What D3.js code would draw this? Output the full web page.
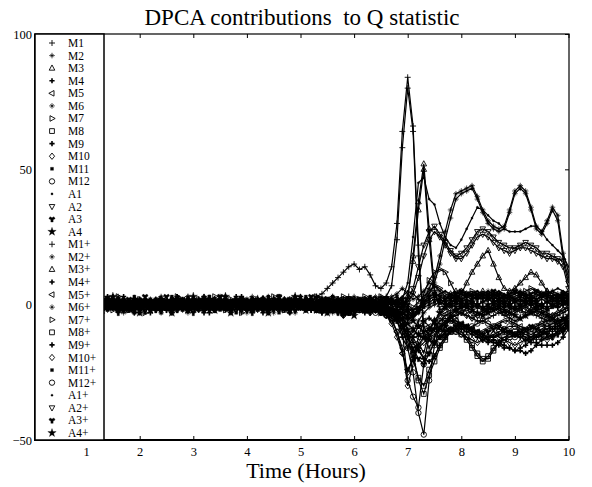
<!DOCTYPE html>
<html>
<head>
<meta charset="utf-8">
<script src="https://cdn.jsdelivr.net/npm/d3@7"></script>
<style>
  body { margin: 0; background: #fff; }
  svg text { font-family: "Liberation Serif", "Times New Roman", serif; fill: #000; }
</style>
</head>
<body>
<div id="chart"></div>
<script>
// time grid (hours) shared by every series
const hours = [
  1.2,1.3,1.4,1.5,1.6,1.7,1.8,1.9,2.0,2.1,
  2.2,2.3,2.4,2.5,2.6,2.7,2.8,2.9,3.0,3.1,
  3.2,3.3,3.4,3.5,3.6,3.7,3.8,3.9,4.0,4.1,
  4.2,4.3,4.4,4.5,4.6,4.7,4.8,4.9,5.0,5.1,
  5.2,5.3,5.4,5.5,5.6,5.7,5.8,5.9,6.0,6.1,
  6.2,6.3,6.4,6.5,6.6,6.7,6.8,
  6.9,7.0,7.1,7.2,7.3,7.4,7.5,7.6,7.7,7.8,
  7.9,8.0,8.1,8.2,8.3,8.4,8.5,8.6,8.7,8.8,
  8.9,9.0,9.1,9.2,9.3,9.4,9.5,9.6,9.7,9.8,
  9.9,10.0
];

const xTicks = [1, 2, 3, 4, 5, 6, 7, 8, 9, 10];
const yTicks = [-50, 0, 50, 100];

const M1 = [
  1,-1,0,2,1,-1,1,0,-2,1,  0,1,-1,1,2,0,-1,1,0,1,  -1,0,1,2,0,-1,1,0,-1,1,  0,1,-1,0,1,2,1,0,1,1,
  2,3,4,6,8,10,12,14,15,13,  14,11,7,6,8,14,30,
  64,84,66,22,-12,-16,-12,-8,-6,-5,  -4,-3,-4,-5,-6,-6,-5,-4,-3,-4,  -5,-6,-5,-4,-3,-4,-5,-6,-5,-4,  -3,-2
];
const M2 = [
  2,-1,-2,1,3,0,-2,1,2,-1,  -2,1,3,0,-2,2,1,-3,0,2,  1,-2,0,3,-1,-2,2,0,-3,1,  -2,2,1,-1,3,0,-2,1,-1,2,
  0,-2,2,1,-3,0,2,-1,-3,1,  2,0,-2,3,0,2,1,
  1,-2,-4,-2,2,6,10,18,27,35,  41,42,43,44,40,35,31,29,28,29,  35,42,44,42,36,29,27,31,36,33,  19,12
];
const M3 = [
  -1,1,0,-1,0,1,-2,0,1,-1,  1,0,-1,0,2,-1,0,1,-1,0,  0,-1,1,0,-1,0,1,-1,0,2,  -1,0,1,0,-1,-2,0,1,-1,0,
  -1,0,1,-1,0,-1,-3,-1,0,1,  -1,0,1,-1,-2,-1,0,
  -2,2,18,38,52,28,6,-2,-1,1,  2,4,8,12,15,18,20,15,10,6,  5,6,8,10,12,11,8,5,4,3,  2,3
];
const M4 = [
  -2,1,3,-1,-2,2,0,-3,1,2,  -1,-2,2,1,-3,0,2,-1,1,-2,  3,0,-2,1,2,-2,0,3,-1,-2,  1,2,-2,-1,3,0,-3,1,2,-1,
  -2,0,-3,-1,1,-2,-4,-2,-1,1,  -2,-3,0,-2,-3,-4,-6,
  -12,-16,-12,-8,-6,-5,-7,-9,-10,-9,  -8,-9,-10,-11,-12,-13,-14,-13,-14,-15,  -16,-17,-16,-15,-13,-12,-11,-10,-9,-8,  -9,-8
];
const M5 = [
  -1,0,1,0,-1,1,0,-1,1,0,  0,1,-1,0,1,0,-1,0,-1,1,  0,-1,1,0,-1,1,0,1,-1,0,  -1,0,0,1,-1,0,1,-1,0,1,
  0,-1,-2,-1,0,-1,-2,-3,-2,-1,  -1,0,-1,-2,-3,-5,-10,
  -18,-24,-20,-12,-6,-8,-10,-9,-7,-5,  -4,-3,-2,-3,-4,-3,-2,-1,-2,-3,  -2,-1,-2,-3,-2,-1,-2,-3,-4,-3,  -2,-1
];
const M6 = [
  1,-2,0,2,-1,-3,1,2,-2,0,  2,-1,-3,1,2,0,-2,3,1,-1,  -2,0,2,-1,3,-2,0,-3,2,1,  -2,2,0,-3,1,2,-1,0,3,-2,
  0,2,-2,1,3,-1,-3,0,2,-1,  -2,1,2,-2,0,-3,-4,
  -8,-12,-10,-6,-3,-1,0,1,0,-1,  0,1,2,1,0,1,2,3,2,1,  0,1,2,1,0,-1,0,1,2,1,  0,1
];
const M7 = [
  0,-1,0,1,-1,0,1,-1,0,1,  -1,0,1,0,-1,1,0,-1,0,1,  1,0,-1,0,1,-1,1,0,-1,0,  0,1,-1,0,1,0,-1,1,0,-1,
  1,0,1,2,1,0,1,2,1,0,  1,2,1,0,-1,-2,-3,
  -4,-6,-4,-2,4,9,12,13,12,8,  4,2,3,4,3,2,3,4,3,2,  3,2,1,2,3,4,3,2,1,2,  3,2
];
const M8 = [
  -1,0,1,-1,0,1,0,-1,0,1,  0,-1,0,1,-1,0,1,0,-1,0,  1,0,-1,0,1,0,-1,1,0,-1,  0,-1,1,0,-1,1,0,-1,0,1,
  -1,-2,-1,0,-1,-2,-3,-2,-1,-2,  -1,-2,-1,0,-1,-2,-3,
  -4,-10,-18,-28,-33,-26,-21,-16,-13,-10,  -9,-10,-12,-15,-18,-20,-20,-17,-14,-12,  -11,-10,-10,-11,-12,-11,-10,-9,-8,-8,  -7,-5
];
const M9 = [
  -2,1,2,-1,0,3,-2,-1,2,1,  -3,0,2,-2,1,3,-1,-2,0,2,  1,-3,0,2,-2,1,3,-1,-2,0,  2,-1,-3,1,2,-2,0,3,-1,-2,
  -2,1,-3,-2,0,-1,-4,-3,0,-2,  -3,-2,-1,-3,-4,-4,-5,
  -8,-10,-14,-17,-20,-21,-19,-15,-12,-10,  -9,-8,-8,-9,-10,-11,-12,-12,-11,-10,  -10,-11,-12,-13,-14,-14,-15,-15,-15,-14,  -12,-9
];
const M10 = [
  -1,0,1,0,-1,1,0,-1,0,1,  0,1,-1,0,1,0,-1,0,1,-1,  1,-1,0,1,-1,0,0,1,-1,0,  0,1,-1,0,1,-1,0,-1,0,1,
  -1,-2,-1,0,-1,-2,-4,-3,-1,-1,  -2,-1,-2,-3,-4,-6,-10,
  -16,-30,-22,-14,-18,-10,-6,-4,-3,-2,  -2,-3,-4,-5,-4,-3,-2,-1,-2,-3,  -4,-3,-2,-1,-2,-3,-4,-5,-4,-3,  -2,-1
];
const M11 = [
  3,0,-2,1,2,-2,-1,3,0,-3,  1,2,-2,0,3,-1,-2,1,2,-1,  -2,3,0,-1,2,-3,1,2,-2,0,  1,-2,3,0,-1,2,-3,0,1,2,
  2,-1,-2,1,3,0,-2,-3,1,2,  1,3,0,-2,1,2,3,
  1,-1,-3,-2,0,2,3,2,1,2,  3,2,1,2,3,4,3,2,1,0,  1,2,3,2,1,2,3,4,3,2,  1,0
];
const M12 = [
  0,-1,1,0,-1,0,1,-1,0,1,  -1,0,1,0,-1,1,0,-1,1,0,  1,0,-1,1,0,-1,1,0,-1,0,  0,-1,0,1,-1,0,1,-1,0,1,
  -1,0,-1,-2,-1,-2,-3,-2,-1,-2,  -1,-2,-3,-2,-3,-4,-5,
  -8,-16,-25,-40,-48,-28,-15,-8,-6,-5,  -6,-8,-9,-10,-11,-12,-12,-11,-10,-9,  -8,-8,-9,-10,-11,-10,-9,-8,-7,-6,  -6,-5
];
const A1 = [
  0,1,-1,0,1,0,-1,1,0,-1,  1,0,-1,1,0,-1,0,1,0,-1,  0,-1,1,0,-1,1,0,-1,0,1,  -1,0,1,-1,0,1,-1,0,1,0,
  0,1,0,-1,1,0,-1,0,1,0,  1,0,-1,1,0,1,2,
  2,8,25,45,47,39,37,30,25,22,  21,24,28,32,36,35,33,31,30,28,  27,27,27,28,29,29,27,24,22,20,  18,14
];
const A2 = [
  1,0,-1,0,1,-1,0,1,-1,0,  0,1,-1,0,1,0,-1,0,1,-1,  -1,0,1,-1,0,1,0,-1,0,1,  0,-1,0,1,-1,0,1,0,-1,0,
  1,0,1,2,1,0,-1,0,1,2,  1,0,1,2,1,0,0,
  0,2,6,14,22,27,29,26,23,20,  18,19,21,24,27,28,27,25,23,22,  21,21,22,23,22,21,19,19,18,17,  16,8
];
const A3 = [
  -1,0,1,-1,0,1,0,-1,0,1,  1,-1,0,1,0,-1,1,0,-1,0,  0,1,-1,0,1,0,-1,0,1,-1,  1,0,-1,0,1,-1,0,1,0,-1,
  -1,0,-1,-2,0,-1,-2,-1,0,-1,  -2,-1,0,-1,-2,-3,-5,
  -8,-12,-16,-20,-22,-18,-14,-12,-10,-9,  -8,-7,-8,-9,-10,-11,-10,-9,-8,-9,  -10,-11,-10,-9,-8,-9,-10,-11,-12,-11,  -10,-8
];
const A4 = [
  2,-2,1,3,-1,-2,0,2,-3,1,  -2,1,2,-1,-3,2,0,-2,3,1,  -1,2,-2,0,3,-3,1,2,0,-2,  2,1,-3,2,0,-1,-2,3,1,-2,
  0,-2,1,-3,-2,0,1,-2,-4,-1,  -2,1,-1,-3,-2,-3,-3,
  -5,-7,-9,-11,-12,-13,-14,-12,-8,-4,  -2,-1,0,1,0,-1,0,1,2,1,  0,-1,0,1,2,1,0,-1,0,1,  2,1
];
const M1p = [
  -1,0,1,-1,0,2,-1,0,1,0,  1,-1,0,-2,1,0,1,-1,0,2,  0,1,-1,0,-1,1,0,2,1,-1,  1,0,-1,1,0,-1,2,1,0,-1,
  0,1,2,1,0,2,1,3,2,1,  2,1,0,2,3,7,24,
  58,80,64,18,-8,-12,-9,-6,-4,-3,  -2,-1,0,1,0,-1,-2,-1,0,1,  2,1,0,-1,0,1,2,1,0,-1,  0,1
];
const M2p = [
  1,0,-1,1,-1,0,1,0,-1,1,  0,2,1,-1,0,1,-1,0,1,-1,  -1,0,1,-1,1,0,-1,1,0,1,  0,-1,0,1,-1,0,1,0,-1,0,
  1,0,-1,1,0,-2,0,1,0,-1,  0,-1,1,0,-1,1,2,
  0,-3,-5,-3,1,4,8,15,24,32,  39,41,42,43,39,34,30,28,27,28,  34,41,43,41,35,28,26,30,35,31,  17,10
];
const M3p = [
  0,-1,1,0,1,-1,0,2,0,-1,  -1,1,0,1,-1,0,-1,0,1,1,  1,0,-1,1,0,1,-1,0,-1,0,  0,1,-1,0,1,0,-1,1,0,-1,
  0,1,0,-1,1,2,0,-1,1,0,  1,-1,0,1,0,-2,-1,
  -1,3,16,35,50,24,4,0,2,4,  5,5,4,3,4,5,4,3,2,3,  4,5,4,3,2,3,4,5,4,3,  4,5
];
const M4p = [
  0,1,0,-1,1,0,-1,1,0,-1,  1,0,-1,1,0,-1,0,1,-1,0,  -1,1,0,-1,0,1,0,-1,1,0,  1,0,-1,0,1,-1,0,1,0,-1,
  0,-1,0,1,-1,-2,-1,0,-1,-2,  0,-1,-2,0,-1,-2,-4,
  -6,-9,-12,-16,-20,-18,-14,-12,-11,-10,  -9,-8,-9,-10,-11,-12,-13,-14,-15,-16,  -16,-17,-17,-18,-17,-15,-13,-12,-11,-10,  -9,-7
];
const M5p = [
  1,0,-1,0,1,0,-1,1,0,-1,  -1,0,1,-1,0,1,0,-1,1,0,  0,1,0,-1,1,0,-1,0,1,-1,  1,-1,0,1,0,-1,1,0,-1,0,
  -1,0,-1,-2,-1,0,-2,-1,0,-1,  -2,-1,0,-1,-2,-3,-6,
  -10,-14,-18,-15,-12,-10,-9,-8,-7,-6,  -6,-7,-8,-9,-10,-10,-9,-8,-7,-6,  -6,-7,-8,-9,-9,-8,-7,-6,-6,-7,  -6,-5
];
const M6p = [
  -2,3,0,-1,2,1,-2,-3,2,0,  1,-2,2,1,-3,2,0,3,-1,-2,  3,0,-2,2,1,-3,2,0,-1,3,  1,-2,3,0,-2,1,2,-3,0,2,
  1,3,0,-2,3,2,-1,2,3,1,  -1,2,3,1,0,3,4,
  6,4,2,3,5,8,7,5,3,2,  3,4,3,2,3,4,5,4,3,2,  3,4,5,4,3,2,3,4,5,4,  3,2
];
const M7p = [
  -1,2,1,-2,3,0,-2,1,2,-3,  1,-1,2,0,-2,3,1,-2,0,2,  -2,1,3,-1,-2,2,0,-3,1,2,  2,-1,-2,3,0,-2,1,2,-1,0,
  1,3,2,0,-1,2,3,1,0,2,  3,1,2,3,2,1,0,
  -2,-3,-1,1,3,5,7,6,4,3,  2,3,4,5,4,3,2,3,4,3,  2,3,4,5,6,5,4,3,2,3,  4,3
];
const M8p = [
  0,1,-1,0,1,-1,0,1,0,-1,  1,0,-1,0,1,0,-1,1,-1,0,  0,1,0,-1,0,1,-1,0,1,0,  -1,0,1,-1,0,-1,1,0,-1,0,
  0,-1,-2,-1,-2,-1,-2,-3,-1,-1,  -2,-1,0,-1,-2,-3,-4,
  -6,-12,-20,-27,-30,-24,-19,-15,-12,-10,  -10,-11,-13,-16,-19,-21,-19,-16,-14,-13,  -12,-11,-11,-12,-13,-12,-11,-10,-9,-9,  -8,-6
];
const M9p = [
  2,-2,0,3,-1,-2,1,2,-3,0,  -1,2,1,-2,0,3,-1,-2,2,1,  -3,0,2,-1,3,-2,1,0,-2,2,  1,-3,2,0,-1,2,-2,1,3,-1,
  -2,0,2,-3,1,-1,-4,-2,0,1,  -2,-3,-1,0,-2,-3,-2,
  -3,-5,-4,-2,0,1,2,1,0,1,  2,1,0,-1,0,1,2,1,0,-1,  0,1,2,1,0,-1,0,1,0,-1,  0,2
];
const M10p = [
  0,1,0,-1,1,0,-1,0,1,0,  -1,0,1,-1,0,1,0,1,-1,0,  0,-1,1,0,-1,0,1,0,-1,1,  1,0,-1,1,0,-1,0,1,0,-1,
  -1,0,-2,-1,-2,-1,-3,-2,-2,-1,  -2,-3,-2,-3,-4,-7,-12,
  -18,-25,-20,-16,-14,-12,-11,-10,-9,-9,  -10,-11,-12,-13,-14,-13,-12,-11,-12,-13,  -14,-15,-14,-13,-12,-11,-12,-13,-12,-10,  -8,-6
];
const M11p = [
  -2,3,1,-1,-2,2,0,-3,1,2,  2,-1,-3,1,2,-2,0,2,-1,-2,  1,3,-1,-2,2,0,-3,1,2,-1,  -2,1,2,-1,-3,2,1,-2,0,3,
  1,-2,0,2,-1,-3,-2,0,1,2,  2,0,-2,1,2,0,1,
  0,-2,-4,-3,-1,0,1,2,1,0,  -1,0,1,0,-1,-2,-1,0,1,0,  -1,-2,-1,0,1,0,-1,-2,-1,0,  1,0
];
const M12p = [
  1,0,-1,0,1,-1,1,0,-1,0,  0,1,0,-1,0,1,-1,0,1,-1,  -1,1,0,-1,1,0,0,-1,1,0,  1,0,-1,0,1,-1,0,1,-1,0,
  0,-1,-2,-1,0,-1,-2,-3,-2,-1,  -2,-1,-2,-3,-4,-5,-6,
  -10,-28,-34,-38,-22,-12,-8,-6,-5,-6,  -7,-8,-9,-8,-7,-6,-7,-8,-9,-10,  -11,-12,-11,-10,-9,-8,-7,-8,-9,-8,  -7,-6
];
const A1p = [
  -2,1,3,-1,-2,0,2,-3,1,2,  -1,2,0,-2,3,1,-2,0,2,-1,  2,-2,1,3,-1,0,-3,2,1,-2,  0,3,-1,-2,2,1,-2,0,3,-1,
  2,-1,-2,1,3,-2,0,2,1,-1,  0,2,1,-2,3,2,1,
  3,5,4,2,1,2,3,4,5,4,  3,2,3,4,5,4,3,4,5,4,  3,2,3,4,3,2,3,4,5,6,  5,4
];
const A2p = [
  0,1,0,-1,1,0,-1,0,1,-1,  -1,0,1,-1,0,1,0,-1,1,0,  1,0,-1,0,1,-1,1,0,-1,0,  -1,0,1,0,-1,1,0,-1,0,1,
  0,1,2,1,0,1,2,1,0,1,  0,1,0,1,2,1,0,
  -1,1,4,10,18,24,27,25,22,19,  17,17,19,22,25,26,25,23,21,20,  19,20,21,21,20,19,18,17,17,16,  14,6
];
const A3p = [
  1,-2,2,0,-3,1,2,-1,-2,3,  0,-2,1,3,-1,-2,2,0,-3,1,  2,-1,-2,3,0,-2,1,2,-1,-3,  1,2,-2,0,3,-1,2,-2,0,1,
  3,-1,-2,2,0,-3,1,2,-1,-2,  1,2,-1,0,2,1,1,
  2,0,-2,-1,1,3,4,3,2,3,  4,5,4,3,2,3,4,5,4,3,  4,5,4,3,4,5,4,3,2,3,  4,3
];
const A4p = [
  0,1,0,-1,0,1,-1,0,1,0,  1,0,-1,0,1,-1,0,1,-1,0,  -1,0,1,-1,0,1,0,-1,0,1,  0,-1,1,0,-1,0,1,0,-1,1,
  -1,0,1,0,-1,0,-1,-2,-1,0,  1,0,-1,0,-1,-2,-2,
  -3,-4,-6,-8,-10,-9,-6,-3,-1,0,  1,0,-1,-2,-3,-4,-3,-2,-1,-2,  -3,-4,-5,-4,-3,-2,-3,-4,-5,-6,  -5,-4
];

const seriesNames = ["M1","M2","M3","M4","M5","M6","M7","M8","M9","M10","M11","M12","A1","A2","A3","A4",
  "M1+","M2+","M3+","M4+","M5+","M6+","M7+","M8+","M9+","M10+","M11+","M12+","A1+","A2+","A3+","A4+"];
const seriesValues = [M1,M2,M3,M4,M5,M6,M7,M8,M9,M10,M11,M12,A1,A2,A3,A4,
  M1p,M2p,M3p,M4p,M5p,M6p,M7p,M8p,M9p,M10p,M11p,M12p,A1p,A2p,A3p,A4p];
const baseMarkers = ["plus","aster","triUp","boldplus","triLeft","aster","triRight","square",
  "boldplus","diamond","smallsq","circle","dot","triDown","wye","star"];

const markerPath = {
  plus: "M-3,0H3M0,-3V3",
  boldplus: "M-2.6,0H2.6M0,-2.6V2.6",
  aster: "M-2.8,0H2.8M0,-2.8V2.8M-1.6,-1.6L1.6,1.6M-1.6,1.6L1.6,-1.6",
  triUp: "M0,-3.2L2.8,2L-2.8,2Z",
  triDown: "M0,3.2L2.8,-2L-2.8,-2Z",
  triLeft: "M-3.2,0L2,-2.8L2,2.8Z",
  triRight: "M3.2,0L-2,-2.8L-2,2.8Z",
  square: "M-2.4,-2.4H2.4V2.4H-2.4Z",
  diamond: "M0,-3.2L2.6,0L0,3.2L-2.6,0Z",
  smallsq: "M-1.5,-1.5H1.5V1.5H-1.5Z",
  circle: "M2.7,0A2.7,2.7 0 1,1 -2.7,0A2.7,2.7 0 1,1 2.7,0Z",
  dot: "M1.1,0A1.1,1.1 0 1,1 -1.1,0A1.1,1.1 0 1,1 1.1,0Z",
  wye: d3.symbol(d3.symbolWye, 18)(),
  star: d3.symbol(d3.symbolStar, 22)()
};
const filled = new Set(["smallsq", "dot", "wye", "star"]);

// open markers are hollow (no face colour), like the original plot
function styleMarker(sel, kind) {
  sel.attr("d", markerPath[kind])
    .attr("fill", filled.has(kind) ? "#000" : "none")
    .attr("stroke", "#000")
    .attr("stroke-width", kind === "boldplus" ? 1.6 : (filled.has(kind) ? 0.3 : (kind === "aster" ? 0.7 : 0.9)));
}

const width = 592, height = 487;
const plotL = 35, plotR = 569, plotT = 34, plotB = 440;

const svg = d3.select("#chart").append("svg")
    .attr("width", width)
    .attr("height", height);

const x = d3.scaleLinear().domain([0, 10]).range([32.5, 568.5]);
const y = d3.scaleLinear().domain([-50, 100]).range([plotB, plotT]);

svg.append("clipPath").attr("id", "plot")
  .append("rect").attr("x", plotL).attr("y", plotT)
  .attr("width", plotR - plotL).attr("height", plotB - plotT);

const plot = svg.append("g").attr("clip-path", "url(#plot)");

const line = d3.line()
    .defined(d => d[1] != null)
    .x(d => x(d[0]))
    .y(d => y(d[1]));

const series = seriesValues.map((vals, k) => ({
  name: seriesNames[k],
  marker: baseMarkers[k % 16],
  points: hours.map((h, i) => [h, vals[i]]).filter(d => d[1] != null)
}));

series.forEach(s => {
  plot.append("path")
    .attr("d", line(s.points))
    .attr("fill", "none")
    .attr("stroke", "#000")
    .attr("stroke-width", 1.2);
});

series.forEach(s => {
  plot.append("g").selectAll("path")
    .data(s.points)
    .enter().append("path")
      .attr("transform", d => `translate(${x(d[0])},${y(d[1])})`)
      .call(styleMarker, s.marker);
});

// axes: ticks point inward on all four sides
svg.append("g")
    .attr("transform", `translate(0,${plotB})`)
    .call(d3.axisBottom(x).tickValues(xTicks).tickSize(-4).tickPadding(7).tickFormat(d3.format("d")))
    .call(g => g.select(".domain").remove())
    .call(g => g.selectAll("text").style("font-size", "12.5px").style("font-family", "Liberation Serif"));

svg.append("g")
    .attr("transform", `translate(0,${plotT})`)
    .call(d3.axisTop(x).tickValues(xTicks).tickSize(-4).tickFormat(""))
    .call(g => g.select(".domain").remove());

svg.append("g")
    .attr("transform", `translate(${plotL},0)`)
    .call(d3.axisLeft(y).tickValues(yTicks).tickSize(-4).tickPadding(3).tickFormat(d3.format("d")))
    .call(g => g.select(".domain").remove())
    .call(g => g.selectAll("text").style("font-size", "12.5px").style("font-family", "Liberation Serif"));

svg.append("g")
    .attr("transform", `translate(${plotR},0)`)
    .call(d3.axisRight(y).tickValues(yTicks).tickSize(-4).tickFormat(""))
    .call(g => g.select(".domain").remove());

// frame
svg.append("rect")
    .attr("x", plotL).attr("y", plotT)
    .attr("width", plotR - plotL).attr("height", plotB - plotT)
    .attr("fill", "none").attr("stroke", "#000").attr("stroke-width", 1.2);
svg.append("path")
    .attr("d", `M${plotL},${plotT}V${plotB}H${plotR}`)
    .attr("fill", "none").attr("stroke", "#000").attr("stroke-width", 2);

// legend
const legend = svg.append("g");
legend.append("rect")
    .attr("x", plotL).attr("y", plotT)
    .attr("width", 104 - plotL).attr("height", plotB - plotT)
    .attr("fill", "#fff").attr("stroke", "#000").attr("stroke-width", 1.5);

const rowY = i => 43 + i * 12.58;
series.forEach((s, i) => {
  legend.append("path")
    .attr("transform", `translate(52,${rowY(i)})`)
    .call(styleMarker, s.marker);
  legend.append("text")
    .attr("x", 68).attr("y", rowY(i) + 4)
    .style("font-size", "11.5px")
    .text(s.name);
});

svg.append("text")
    .attr("x", 302).attr("y", 25)
    .attr("text-anchor", "middle")
    .style("font-size", "23px")
    .style("white-space", "pre")
    .text("DPCA contributions  to Q statistic");

svg.append("text")
    .attr("x", 306).attr("y", 478)
    .attr("text-anchor", "middle")
    .style("font-size", "22px")
    .text("Time (Hours)");
</script>
</body>
</html>
